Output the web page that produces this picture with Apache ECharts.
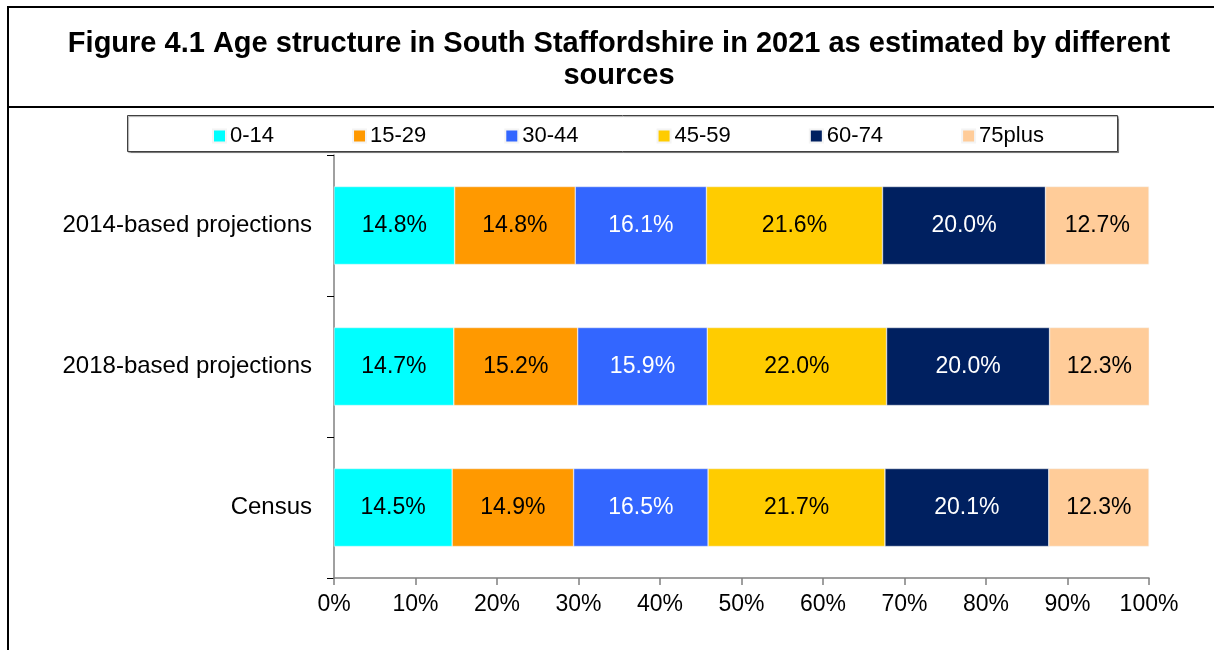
<!DOCTYPE html>
<html lang="en">
<head>
    <meta charset="UTF-8">
    <title>Figure 4.1 Age structure</title>
    <script type="text/javascript" src="https://cdn.jsdelivr.net/npm/echarts@6/dist/echarts.min.js"></script>
    <style>
        html, body { margin: 0; padding: 0; background: #fff; }
    </style>
</head>
<body>
<div id="main" style="width:1214px;height:650px;"></div>
<script type="text/javascript">
    // sources (top to bottom)
    var sources = ['2014-based projections', '2018-based projections', 'Census'];
    // age groups
    var ageGroups = ['0-14', '15-29', '30-44', '45-59', '60-74', '75plus'];
    // share of population (%) per age group, one value per source
    var age0_14  = [14.8, 14.7, 14.5];
    var age15_29 = [14.8, 15.2, 14.9];
    var age30_44 = [16.1, 15.9, 16.5];
    var age45_59 = [21.6, 22.0, 21.7];
    var age60_74 = [20.0, 20.0, 20.1];
    var age75    = [12.7, 12.3, 12.3];
    var xTicks = ['0%', '10%', '20%', '30%', '40%', '50%', '60%', '70%', '80%', '90%', '100%'];

    var groupData = [age0_14, age15_29, age30_44, age45_59, age60_74, age75];
    var colors = ['#00FFFF', '#FF9900', '#3366FF', '#FFCC00', '#002060', '#FFCC99'];
    var labelColors = ['#000', '#000', '#fff', '#000', '#fff', '#000'];
    var font = 'Arial, "Liberation Sans", sans-serif';

    var series = [];
    for (var i = 0; i < ageGroups.length; i++) {
        series.push({
            name: ageGroups[i],
            type: 'bar',
            stack: 'total',
            barWidth: 78,
            data: groupData[i],
            itemStyle: { color: colors[i], borderColor: '#f4f4f4', borderWidth: 0.5 },
            label: {
                show: true,
                position: 'inside',
                color: labelColors[i],
                fontSize: 23,
                fontFamily: font,
                formatter: function (p) { return p.value.toFixed(1) + '%'; }
            }
        });
    }

    var myChart = echarts.init(document.getElementById('main'));
    var option = {
        animation: false,
        color: colors,
        textStyle: { fontFamily: font },
        title: {
            text: 'Figure 4.1 Age structure in South Staffordshire in 2021 as estimated by different\nsources',
            left: 614,
            top: 23,
            textAlign: 'center',
            textStyle: { fontSize: 29, fontWeight: 'bold', color: '#000', fontFamily: font, lineHeight: 32 }
        },
        legend: {
            data: ageGroups,
            left: 207,
            top: 120,
            itemWidth: 13,
            itemHeight: 13,
            itemGap: 78,
            icon: 'rect',
            textStyle: { fontSize: 22, color: '#000', fontFamily: font, padding: [0, 0, 0, -1] }
        },
        grid: { left: 334, right: 65, top: 155, bottom: 72 },
        xAxis: {
            type: 'value',
            min: 0,
            max: 100,
            interval: 10,
            axisLine: { show: true, lineStyle: { color: '#808080', width: 1.5 } },
            axisTick: { show: true, length: 7, lineStyle: { color: '#808080', width: 1.5 } },
            splitLine: { show: false },
            axisLabel: {
                fontSize: 23,
                color: '#000',
                margin: 15,
                formatter: function (v) { return xTicks[Math.round(v / 10)]; }
            }
        },
        yAxis: {
            type: 'category',
            data: sources,
            inverse: true,
            axisLine: { show: true, lineStyle: { color: '#808080', width: 1.5 } },
            axisTick: { show: true, length: 7, lineStyle: { color: '#000', width: 1 } },
            axisLabel: { fontSize: 24, color: '#000', margin: 22 }
        },
        graphic: [
            // outer frame + title divider
            { type: 'line', shape: { x1: 8, y1: 7, x2: 1214, y2: 7 }, style: { stroke: '#000', lineWidth: 2 } },
            { type: 'line', shape: { x1: 8, y1: 6, x2: 8, y2: 650 }, style: { stroke: '#000', lineWidth: 2 } },
            { type: 'line', shape: { x1: 8, y1: 107, x2: 1214, y2: 107 }, style: { stroke: '#000', lineWidth: 2 } },
            // legend box
            { type: 'rect', z: -1, shape: { x: 127.5, y: 115.5, width: 990, height: 36 },
              style: { fill: '#fff', stroke: '#404040', lineWidth: 1, shadowColor: 'rgba(0,0,0,0.35)', shadowOffsetX: 1, shadowOffsetY: 1, shadowBlur: 1 } }
        ],
        series: series
    };
    myChart.setOption(option);
</script>
</body>
</html>
